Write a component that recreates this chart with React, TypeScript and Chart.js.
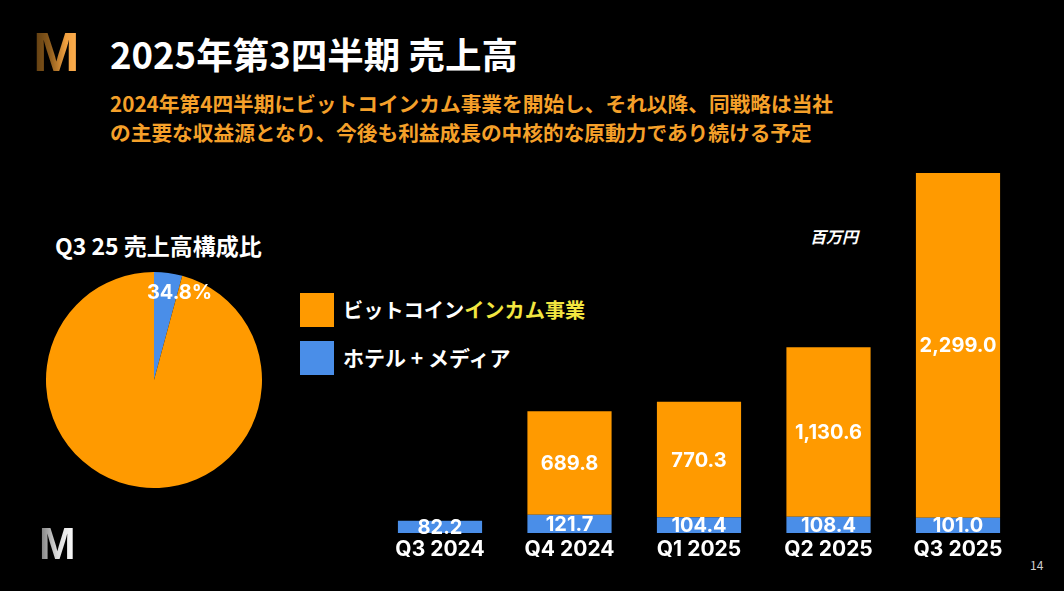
import React, { useEffect, useRef } from "react";
import { Chart, registerables } from "chart.js";

Chart.register(...registerables);

const categories = ["Q3 2024", "Q4 2024", "Q1 2025", "Q2 2025", "Q3 2025"];
const hotelMediaValues = [82.2, 121.7, 104.4, 108.4, 101.0];
const bitcoinIncomeValues = [0, 689.8, 770.3, 1130.6, 2299.0];
const seriesNames = ["ホテル + メディア", "ビットコインインカム事業"];
const pieValues = [101.0, 2299.0];
const pieLabels = ["34.8%", ""];
const yMax = 2400;

const ORANGE = "#FF9A00";
const BLUE = "#4A8EE8";
const FONT = "'Noto Sans CJK JP', 'Noto Sans', sans-serif";
const NUM_FONT = "Inter, 'Noto Sans', sans-serif";

const fmt = (v: number) =>
  v.toLocaleString("en-US", { minimumFractionDigits: 1, maximumFractionDigits: 1 });

const barLabelPlugin = {
  id: "barLabels",
  afterDatasetsDraw(chart: any) {
    const ctx = chart.ctx;
    ctx.save();
    ctx.fillStyle = "#ffffff";
    ctx.font = `bold 20px ${NUM_FONT}`;
    ctx.textAlign = "center";
    ctx.textBaseline = "middle";
    chart.data.datasets.forEach((ds: any, di: number) => {
      const meta = chart.getDatasetMeta(di);
      meta.data.forEach((el: any, i: number) => {
        const v = ds.data[i];
        if (!v) return;
        const p = el.getProps(["x", "y", "base"], true);
        ctx.fillText(fmt(v), p.x, (p.y + p.base) / 2 + 1);
      });
    });
    ctx.restore();
  },
};

const pieLabelPlugin = {
  id: "pieLabels",
  afterDatasetsDraw(chart: any) {
    const ctx = chart.ctx;
    ctx.save();
    ctx.fillStyle = "#ffffff";
    ctx.font = `bold 20px ${NUM_FONT}`;
    ctx.textAlign = "center";
    ctx.textBaseline = "middle";
    const meta = chart.getDatasetMeta(0);
    meta.data.forEach((el: any, i: number) => {
      const txt = pieLabels[i];
      if (!txt) return;
      const p = el.getProps(["x", "y", "startAngle", "endAngle", "outerRadius"], true);
      const mid = (p.startAngle + p.endAngle) / 2;
      const r = p.outerRadius * 0.81;
      ctx.fillText(txt, p.x + Math.cos(mid) * r + 14, p.y + Math.sin(mid) * r);
    });
    ctx.restore();
  },
};

function BarChart() {
  const ref = useRef<HTMLCanvasElement>(null);
  useEffect(() => {
    const chart = new Chart(ref.current as HTMLCanvasElement, {
      type: "bar",
      data: {
        labels: categories,
        datasets: [
          { label: seriesNames[0], data: hotelMediaValues, backgroundColor: BLUE, borderWidth: 0 },
          { label: seriesNames[1], data: bitcoinIncomeValues, backgroundColor: ORANGE, borderWidth: 0 },
        ],
      },
      options: {
        responsive: false,
        animation: false,
        devicePixelRatio: 1,
        layout: { padding: { left: 15.25, right: 27.25, top: 23, bottom: 0 } },
        datasets: { bar: { categoryPercentage: 1, barPercentage: 0.65 } },
        plugins: { legend: { display: false }, tooltip: { enabled: false } },
        scales: {
          x: {
            stacked: true,
            grid: { display: false, drawTicks: false },
            border: { display: false },
            ticks: { color: "#ffffff", font: { family: NUM_FONT, size: 21, weight: "bold" }, padding: 4 },
            afterFit: (scale: any) => {
              scale.height = 37;
            },
          },
          y: { stacked: true, display: false, min: 0, max: yMax },
        },
      } as any,
      plugins: [barLabelPlugin],
    });
    return () => chart.destroy();
  }, []);
  return (
    <canvas
      ref={ref}
      width={690}
      height={420}
      style={{ position: "absolute", left: 360, top: 150, width: 690, height: 420 }}
    />
  );
}

function PieChart() {
  const ref = useRef<HTMLCanvasElement>(null);
  useEffect(() => {
    const chart = new Chart(ref.current as HTMLCanvasElement, {
      type: "pie",
      data: {
        labels: [seriesNames[0], seriesNames[1]],
        datasets: [{ data: pieValues, backgroundColor: [BLUE, ORANGE], borderWidth: 0 }],
      },
      options: {
        responsive: false,
        animation: false,
        devicePixelRatio: 1,
        layout: { padding: 0 },
        plugins: { legend: { display: false }, tooltip: { enabled: false } },
      } as any,
      plugins: [pieLabelPlugin],
    });
    return () => chart.destroy();
  }, []);
  return (
    <canvas
      ref={ref}
      width={216}
      height={216}
      style={{ position: "absolute", left: 46, top: 272, width: 216, height: 216 }}
    />
  );
}

const abs = (s: React.CSSProperties): React.CSSProperties => ({ position: "absolute", whiteSpace: "nowrap", ...s });

export default function App() {
  return (
    <div
      style={{
        position: "fixed",
        left: 0,
        top: 0,
        width: 1064,
        height: 591,
        background: "#000",
        overflow: "hidden",
        fontFamily: FONT,
      }}
    >
      <div
        style={abs({
          left: 33,
          top: 22,
          fontSize: 56,
          lineHeight: "60px",
          fontWeight: 700,
          fontFamily: "'Liberation Sans', sans-serif",
          background: "linear-gradient(90deg, #5a3a10 0%, #8a5a1c 35%, #f0a040 70%, #ffb050 100%)",
          WebkitBackgroundClip: "text",
          backgroundClip: "text",
          color: "transparent",
        })}
      >
        M
      </div>
      <div
        style={abs({
          left: 39,
          top: 519,
          fontSize: 44,
          lineHeight: "50px",
          fontWeight: 700,
          fontFamily: "'Liberation Sans', sans-serif",
          background: "linear-gradient(90deg, #777 0%, #ddd 50%, #fff 100%)",
          WebkitBackgroundClip: "text",
          backgroundClip: "text",
          color: "transparent",
        })}
      >
        M
      </div>
      <div style={abs({ left: 110, top: 33, fontSize: 36.5, lineHeight: "42px", fontWeight: 700, color: "#fff" })}>
        2025年第3四半期 売上高
      </div>
      <div style={abs({ left: 110, top: 89, fontSize: 20.7, lineHeight: "29px", fontWeight: 700, color: "#F5A02A" })}>
        2024年第4四半期にビットコインカム事業を開始し、それ以降、同戦略は当社
        <br />
        の主要な収益源となり、今後も利益成長の中核的な原動力であり続ける予定
      </div>
      <div style={abs({ left: 55, top: 230, fontSize: 23, lineHeight: "30px", fontWeight: 700, color: "#fff" })}>
        Q3 25 売上高構成比
      </div>
      <div style={abs({ left: 300, top: 293, width: 34, height: 34, background: ORANGE })} />
      <div style={abs({ left: 300, top: 341, width: 34, height: 34, background: BLUE })} />
      <div style={abs({ left: 343, top: 296, fontSize: 20.2, lineHeight: "28px", fontWeight: 700, color: "#fff" })}>
        ビットコイン<span style={{ color: "#F2E640" }}>インカム事業</span>
      </div>
      <div style={abs({ left: 343, top: 343, fontSize: 21, lineHeight: "28px", fontWeight: 700, color: "#fff" })}>
        ホテル + メディア
      </div>
      <div
        style={abs({
          left: 810,
          top: 226,
          fontSize: 16,
          lineHeight: "20px",
          fontWeight: 700,
          fontStyle: "italic",
          color: "#fff",
        })}
      >
        百万円
      </div>
      <div style={abs({ left: 1030, top: 557, fontSize: 12, lineHeight: "16px", color: "#cfcfcf" })}>14</div>
      <PieChart />
      <BarChart />
    </div>
  );
}
